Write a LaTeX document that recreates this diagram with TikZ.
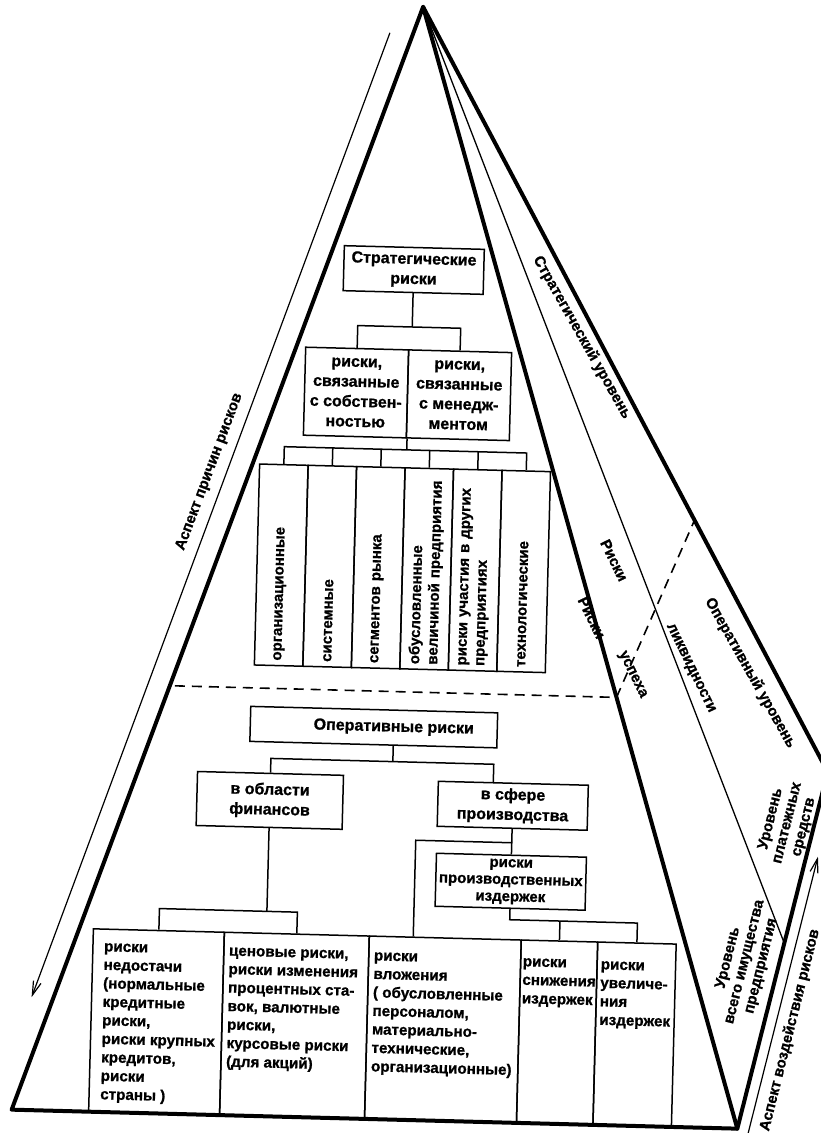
\documentclass[tikz,border=0pt]{standalone}
\usepackage{fontspec}
\setmainfont{Liberation Sans}[BoldFeatures={FakeBold=1}]
\usetikzlibrary{arrows.meta,calc}

% type sizes: box text, long lists, tight blocks, columns, captions
\newcommand\boxfont{\fontsize{16}{20}\selectfont\bfseries}
\newcommand\listfont{\fontsize{15.2}{18.5}\selectfont\bfseries}
\newcommand\tightfont{\fontsize{15}{17}\selectfont\bfseries}
\newcommand\colfont{\fontsize{15}{18}\selectfont\bfseries}
\newcommand\capfont{\fontsize{15}{17}\selectfont\bfseries}

\tikzset{
  edge/.style={line width=4pt, line cap=round, line join=round},
  guide/.style={line width=1.3pt},
  cutline/.style={line width=1.6pt, dash pattern=on 10pt off 7pt},
  box/.style={draw, line width=1.5pt, inner sep=0pt, align=center, font=\boxfont},
  link/.style={line width=1.5pt},
  column/.style={draw, line width=1.5pt, rotate=90, minimum width=201pt, minimum height=48.5pt,
                 inner xsep=5pt, inner ysep=0pt, text width=191pt, align=left, font=\colfont},
  listtext/.style={inner sep=0pt, anchor=north west, align=left, font=\listfont},
  caption/.style={inner sep=0pt, align=center, font=\capfont},
  aspect/.style={-{Straight Barb[length=14pt,width=8pt]}, line width=1.2pt},
}

\begin{document}
\begin{tikzpicture}[x=1pt, y=-1pt]
\useasboundingbox (0,0) rectangle (821,1133);
\begin{scope}[rotate around={-1.5:(410,566)}, transform shape]

% pyramid corners
\coordinate (A)  at (408.5,6.7);
\coordinate (BL) at (26,1120);
\coordinate (BR) at (752,1120);
\coordinate (C)  at (833,761);
\coordinate (T)  at ($(BR)!0.52!(C)$);
\coordinate (D1) at ($(A)!0.6156!(BR)$);
\coordinate (D2) at ($(A)!0.671!(C)$);
\coordinate (dl) at (178,692);

% strategic risks
\node[box, minimum width=140pt, minimum height=45pt] (sr) at (406,270) {Стратегические\\риски};
\node[box, minimum width=103pt, minimum height=88pt] (own) at (351.5,394) {риски,\\связанные\\с собствен-\\ностью};
\node[box, minimum width=103pt, minimum height=88pt] (mgt) at (454.5,394) {риски,\\связанные\\с менедж-\\ментом};

\node[column] (c1) at (281.25,568.5) {организационные};
\node[column] (c2) at (329.75,568.5) {системные};
\node[column] (c3) at (378.25,568.5) {сегментов рынка};
\node[column] (c4) at (426.75,568.5) {обусловленные\\величиной предприятия};
\node[column] (c5) at (475.25,568.5) {риски участия в других\\предприятиях};
\node[column] (c6) at (523.75,568.5) {технологические};

\draw[link] (sr.south) -- (sr.south |- 0,327);
\draw[link] (own.north) -- (own.north |- 0,327) -- (mgt.north |- 0,327) -- (mgt.north);
\draw[link] (own.south east) -- (own.south east |- 0,450);
\draw[link] (c1.east) -- (c1.east |- 0,450) -- (c6.east |- 0,450) -- (c6.east);
\foreach \i in {2,...,5} \draw[link] (c\i.east) -- (c\i.east |- 0,450);

% boundary between the levels
\draw[cutline] (dl) -- (D1) -- (D2);

% operational risks
\node[box, minimum width=247pt, minimum height=35pt] (op) at (378,728) {};
\node[inner sep=0pt, font=\boxfont] (opl) at (398,728) {Оперативные риски};
\node[box, minimum width=146pt, minimum height=54pt] (fin) at (276,804) {в области\\финансов};
\node[box, minimum width=150pt, minimum height=45pt] (prod) at (519,803) {в сфере\\производства};
\node[box, minimum width=150pt, minimum height=53pt, font=\tightfont] (cost) at (519,879) {риски\\производственных\\издержек};
\coordinate (prodleg) at ($(prod.north)+(-20,0)$);

\draw[link] (opl |- op.south) -- (opl |- 0,762);
\draw[link] (fin.north) -- (fin.north |- 0,762) -- (prodleg |- 0,762) -- (prodleg);

\node[box, minimum width=131pt, minimum height=183pt] (b1) at (168.5,1028.5) {};
\node[box, minimum width=145pt, minimum height=183pt] (b2) at (306.5,1028.5) {};
\node[box, minimum width=152pt, minimum height=183pt] (b3) at (455,1028.5) {};
\node[box, minimum width=76.5pt, minimum height=183pt] (b4) at (569.25,1028.5) {};
\node[box, minimum width=78.5pt, minimum height=183pt] (b5) at (646.75,1028.5) {};
\coordinate (b3leg) at ($(b3.north)+(-32,0)$);

\node[listtext] (t1) at (114,946) {\strut риски\\недостачи\\(нормальные\\кредитные\\риски,\\риски крупных\\кредитов,\\риски\\страны )};
\node[listtext] (t2) at (239,947) {\strut ценовые риски,\\риски изменения\\процентных ста-\\вок, валютные\\риски,\\курсовые риски\\(для акций)};
\node[listtext] (t3) at (384,948) {\strut риски\\вложения\\( обусловленные\\персоналом,\\материально-\\технические,\\организационные)};
\node[listtext] (t4) at (533,950) {\strut риски\\снижения\\издержек};
\node[listtext] (t5) at (611,951) {\strut риски\\увеличе-\\ния\\издержек};

\draw[link] (fin.south) -- (fin.south |- 0,915);
\draw[link] (b1.north) -- (b1.north |- 0,915) -- (b2.north |- 0,915) -- (b2.north);
\draw[link] (prod.south) -- (prod.south |- 0,840) -| (b3leg);
\draw[link] (prod.south |- 0,840) -- (cost.north);
\draw[link] (cost.south) -- (cost.south |- 0,917) -| (b5.north);
\draw[link] (b4.north) -- (b4.north |- 0,917);

% pyramid faces
\draw[edge] (A) -- (BL) -- (BR) -- cycle;
\draw[edge] (A) -- (C) -- (BR);
\draw[guide] (A) -- (T);

% aspect arrows
\coordinate (L1) at (376,33.5);
\coordinate (L2) at (43,1007);
\draw[aspect] (L1) -- (L2);
\coordinate (R1) at (763,1124);
\coordinate (R2) at (825.5,846);
\draw[aspect] (R1) -- (R2);

% captions along the edges
\node[caption, rotate=71] (causes) at (207,477) {Аспект причин рисков};
\node[caption, rotate=77.5] (impact) at (802,1020) {Аспект воздействия рисков};
\node[caption, rotate=-59] (strat) at (576,333) {Стратегический уровень};
\node[caption, rotate=-59] (oper) at (753,664) {Оперативный уровень};
\node[caption, rotate=-62.5] (liq1) at (614,555) {Риски};
\node[caption, rotate=-62.5] (liq2) at (693,661) {ликвидности};
\node[caption, rotate=-62.5] (suc1) at (593,613) {Риски};
\node[caption, rotate=-62.5] (suc2) at (635,669) {успеха};
\node[caption, rotate=77.5, font=\tightfont] (assets) at (755,953) {Уровень\\всего имущества\\предприятия};
\node[caption, rotate=77.5, font=\tightfont] (cash) at (794,813) {Уровень\\платежных\\средств};

\end{scope}
\end{tikzpicture}
\end{document}
